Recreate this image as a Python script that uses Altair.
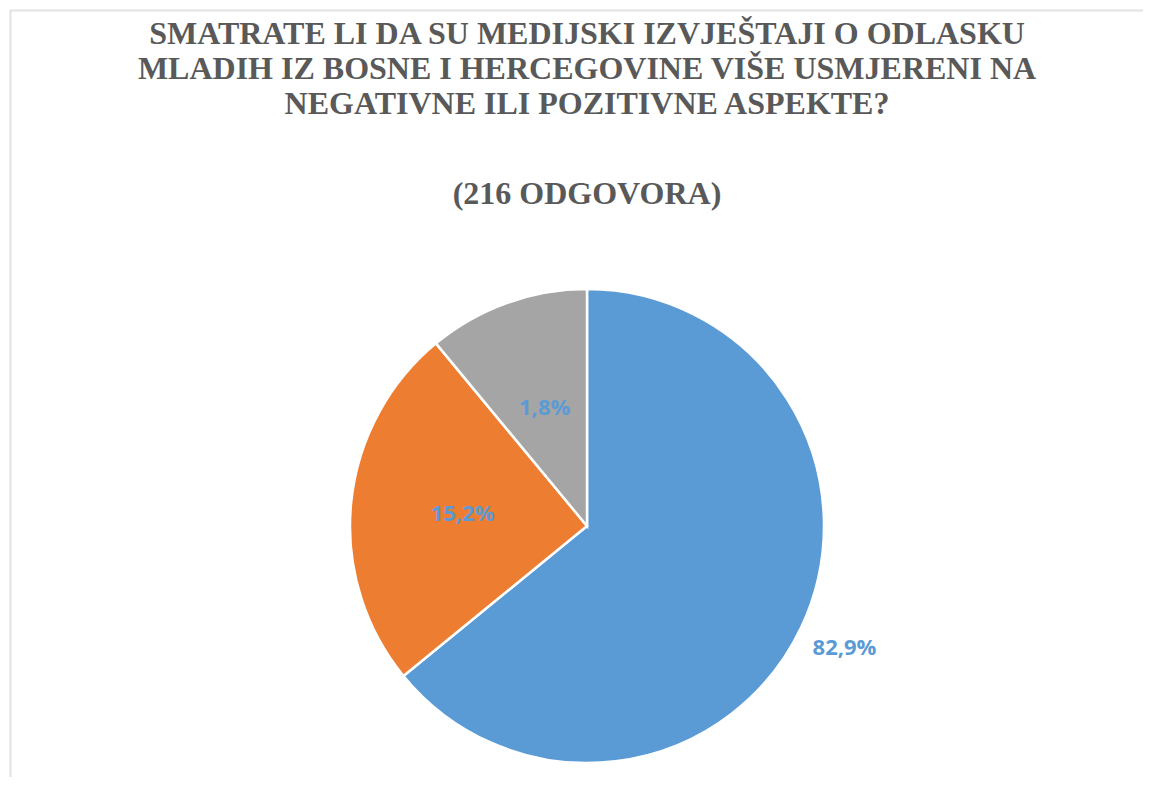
import altair as alt
import pandas as pd

# Data
categories = ["Negativne", "Pozitivne", "Ne znam"]
slice_share = [64.1, 24.9, 11.0]          # drawn slice sizes (share of circle)
label_text = ["82,9%", "15,2%", "1,8%"]   # printed data labels
colors = ["#5B9BD5", "#ED7D31", "#A5A5A5"]

title_lines = [
    "SMATRATE LI DA SU MEDIJSKI IZVJEŠTAJI O ODLASKU",
    "MLADIH IZ BOSNE I HERCEGOVINE VIŠE USMJERENI NA",
    "NEGATIVNE ILI POZITIVNE ASPEKTE?",
]
subtitle_text = "(216 ODGOVORA)"

df = pd.DataFrame({
    "kategorija": categories,
    "udio": slice_share,
    "oznaka": label_text,
    "red": list(range(len(categories))),
})

W, H = 1135, 769
CX, CY = 579, 518
R = 237

color_enc = alt.Color("kategorija:N",
                      scale=alt.Scale(domain=categories, range=colors),
                      legend=None)

pie = alt.Chart(df).mark_arc(radius=R, stroke="white", strokeWidth=2.5).encode(
    theta=alt.Theta("udio:Q", stack=True),
    order=alt.Order("red:Q"),
    color=color_enc,
    x=alt.value(CX),
    y=alt.value(CY),
)

lab_base = alt.Chart(df).transform_window(
    kum="sum(udio)", sort=[alt.SortField("red")], frame=[None, 0]
).transform_calculate(
    sredina="datum.kum - datum.udio / 2"
).encode(
    theta=alt.Theta("sredina:Q"),
    text="oznaka:N",
    color=alt.value("#5B9BD5"),
    x=alt.value(CX),
    y=alt.value(CY),
)

label_style = dict(font="Open Sans", fontWeight="bold", fontSize=22,
                   align="center", baseline="middle")

labels_in = lab_base.mark_text(radius=125, **label_style).transform_filter(
    alt.datum.kategorija != categories[0])
labels_out = lab_base.mark_text(radius=285, **label_style).transform_filter(
    alt.datum.kategorija == categories[0])

frame_top = alt.Chart(df).mark_rule(color="#E3E3E3", strokeWidth=1.5).encode(
    x=alt.value(2), x2=alt.value(W), y=alt.value(2.5)
)
frame_left = alt.Chart(df).mark_rule(color="#E3E3E3", strokeWidth=1.5).encode(
    x=alt.value(2.5), y=alt.value(2), y2=alt.value(H)
)

chart = alt.layer(frame_top, frame_left, pie, labels_in, labels_out).properties(
    width=W, height=H,
    autosize=alt.AutoSizeParams(type="none"),
    padding={"left": 0, "top": 0, "right": 0, "bottom": 0},
    title=alt.Title(
        text=title_lines,
        subtitle=subtitle_text,
        anchor="middle",
        frame="group",
        orient="top",
        offset=-203,
        dx=11.5,
        font="Liberation Serif",
        fontSize=32,
        fontWeight="bold",
        color="#595959",
        lineHeight=35,
        subtitleFont="Liberation Serif",
        subtitleFontSize=32,
        subtitleFontWeight="bold",
        subtitleColor="#595959",
        subtitlePadding=58,
    ),
).configure_view(stroke=None)

chart.save("out.html", embed_options={"renderer": "svg", "actions": False})
